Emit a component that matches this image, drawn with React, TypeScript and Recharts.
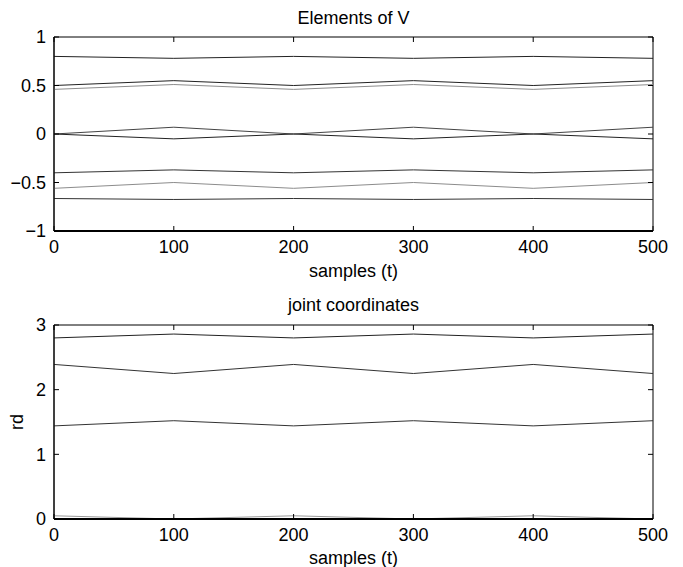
import React from 'react';
import { LineChart, Line, XAxis, YAxis, ReferenceArea } from 'recharts';

const samples = [0, 100, 200, 300, 400, 500];

// Elements of V
const v1 = [0.8, 0.78, 0.8, 0.78, 0.8, 0.78];
const v2 = [0.5, 0.55, 0.5, 0.55, 0.5, 0.55];
const v3 = [0.46, 0.51, 0.46, 0.51, 0.46, 0.51];
const v4 = [0, 0.07, 0, 0.07, 0, 0.07];
const v5 = [0, -0.05, 0, -0.05, 0, -0.05];
const v6 = [-0.4, -0.37, -0.4, -0.37, -0.4, -0.37];
const v7 = [-0.56, -0.5, -0.56, -0.5, -0.56, -0.5];
const v8 = [-0.665, -0.675, -0.665, -0.675, -0.665, -0.675];

// joint coordinates
const q1 = [2.8, 2.86, 2.8, 2.86, 2.8, 2.86];
const q2 = [2.39, 2.25, 2.39, 2.25, 2.39, 2.25];
const q3 = [1.44, 1.52, 1.44, 1.52, 1.44, 1.52];
const q4 = [0.05, 0, 0.05, 0, 0.05, 0];

const xTicks = [0, 100, 200, 300, 400, 500];
const vTicks = [-1, -0.5, 0, 0.5, 1];
const qTicks = [0, 1, 2, 3];

const FONT = "'Liberation Sans', Arial, Helvetica, sans-serif";
const DARK = '#222';
const GRAY = '#8c8c8c';
const PLOT_W = 599;
const TICK = 5;

const vData = samples.map((t, i) => ({
  t, v1: v1[i], v2: v2[i], v3: v3[i], v4: v4[i], v5: v5[i], v6: v6[i], v7: v7[i], v8: v8[i],
}));
const qData = samples.map((t, i) => ({ t, q1: q1[i], q2: q2[i], q3: q3[i], q4: q4[i] }));

const vSeries = [
  { key: 'v1', color: DARK },
  { key: 'v2', color: DARK },
  { key: 'v3', color: GRAY },
  { key: 'v4', color: '#444' },
  { key: 'v5', color: DARK },
  { key: 'v6', color: '#333' },
  { key: 'v7', color: GRAY },
  { key: 'v8', color: '#333' },
];
const qSeries = [
  { key: 'q1', color: DARK },
  { key: 'q2', color: '#333' },
  { key: 'q3', color: '#333' },
  { key: 'q4', color: '#999' },
];

const fmt = (v: number) => (v < 0 ? '\u2212' + Math.abs(v) : String(v));

// bottom axis tick: inward tick at bottom and top of the box, label below
function XTick({ x, y, payload, plotH }: any) {
  return (
    <g>
      <line x1={x} x2={x} y1={y} y2={y - TICK} stroke="#000" />
      <line x1={x} x2={x} y1={y - plotH} y2={y - plotH + TICK} stroke="#000" />
      <text x={x} y={y + 9} dy="0.71em" textAnchor="middle" fill="#000"
        fontSize={18} fontFamily={FONT}>{fmt(payload.value)}</text>
    </g>
  );
}

// left axis tick: inward tick at left and right of the box, label left
function YTick({ x, y, payload }: any) {
  return (
    <g>
      <line x1={x} x2={x + TICK} y1={y} y2={y} stroke="#000" />
      <line x1={x + PLOT_W} x2={x + PLOT_W - TICK} y1={y} y2={y} stroke="#000" />
      <text x={x - 8} y={y} dy="0.355em" textAnchor="end" fill="#000"
        fontSize={18} fontFamily={FONT}>{fmt(payload.value)}</text>
    </g>
  );
}

function Panel({ data, series, yDomain, yTicks, xLabelOffset, yLabel, marginTop, xHeight, width, height }: any) {
  const plotH = height - marginTop - xHeight;
  return (
    <LineChart width={width} height={height} data={data}
      margin={{ top: marginTop, right: width - 54 - PLOT_W, left: 0, bottom: 0 }}>
      <XAxis dataKey="t" type="number" domain={[0, 500]} ticks={xTicks}
        height={xHeight} tickSize={0} tickMargin={0} tickLine={false}
        axisLine={{ stroke: '#000', strokeWidth: 2 }} tick={<XTick plotH={plotH} />}
        label={{ value: 'samples (t)', position: 'insideBottom', offset: xLabelOffset, fill: '#000', fontSize: 18, fontFamily: FONT }} />
      <YAxis type="number" domain={yDomain} ticks={yTicks} width={54}
        tickSize={0} tickMargin={0} tickLine={false} axisLine={{ stroke: '#000' }}
        tick={<YTick />}
        label={yLabel ? { value: yLabel, angle: -90, position: 'insideLeft', offset: 17, fill: '#000', fontSize: 18, fontFamily: FONT, style: { textAnchor: 'middle' } } : undefined} />
      <ReferenceArea x1={0} x2={500} y1={yDomain[0]} y2={yDomain[1]} fill="none" fillOpacity={0}
        stroke="#000" strokeWidth={1} ifOverflow="visible" />
      {series.map((s: any) => (
        <Line key={s.key} dataKey={s.key} stroke={s.color} strokeWidth={1}
          dot={false} isAnimationActive={false} type="linear" />
      ))}
    </LineChart>
  );
}

const titleStyle = (top: number): React.CSSProperties => ({
  position: 'absolute', left: 54, width: PLOT_W, top, textAlign: 'center',
  fontFamily: FONT, fontSize: 18, color: '#000', lineHeight: '20px',
});

export default function App() {
  return (
    <div style={{ position: 'absolute', left: 0, top: 0, width: 683, height: 567, background: '#fff' }}>
      <div style={{ position: 'absolute', left: 0, top: 0 }}>
        <Panel data={vData} series={vSeries} yDomain={[-1, 1]} yTicks={vTicks} xLabelOffset={13}
          marginTop={37} xHeight={59} width={683} height={290} />
      </div>
      <div style={{ position: 'absolute', left: 0, top: 290 }}>
        <Panel data={qData} series={qSeries} yDomain={[0, 3]} yTicks={qTicks} xLabelOffset={3}
          yLabel="rd" marginTop={35} xHeight={48} width={683} height={277} />
      </div>
      <div style={titleStyle(8)}>Elements of V</div>
      <div style={titleStyle(295)}>joint coordinates</div>
    </div>
  );
}
